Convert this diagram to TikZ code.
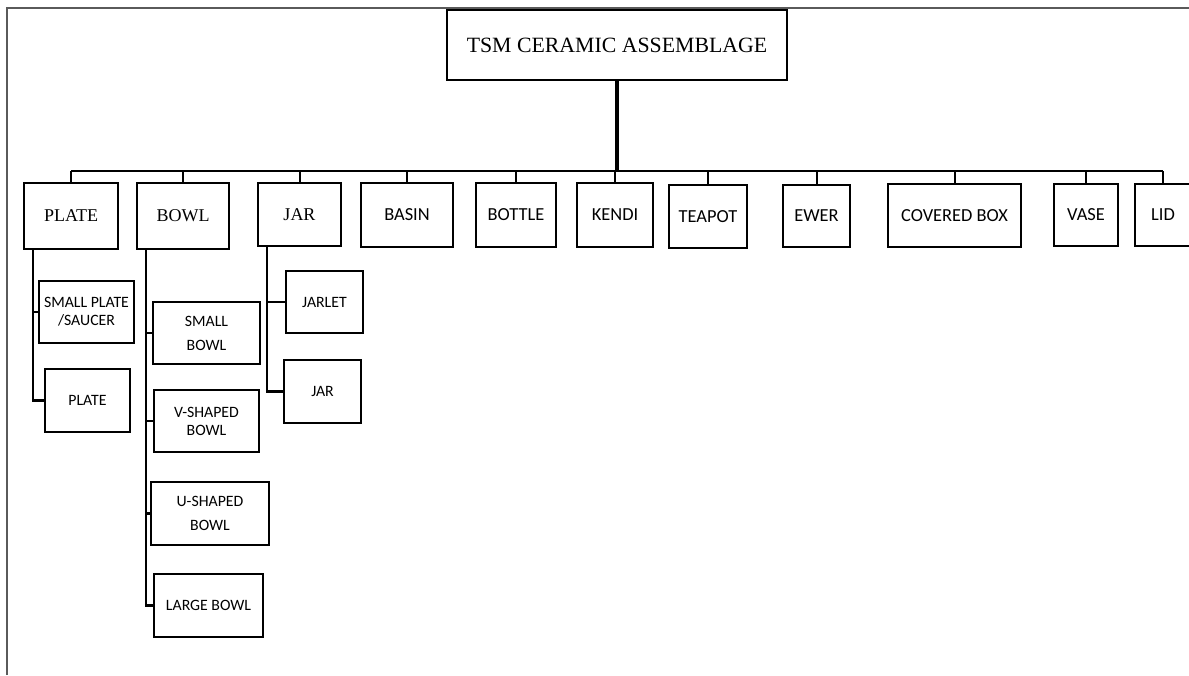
\documentclass[tikz,border=0pt]{standalone}
\usepackage{fontspec}
\setmainfont{Liberation Serif}
\newfontfamily\carlito{Carlito}
\usetikzlibrary{positioning}
\definecolor{framegrey}{HTML}{5A5A5A}
\tikzset{
  px/.style 2 args = {minimum width=#1*0.5pt, minimum height=#2*0.5pt},
  rootbox/.style   = {draw, line width=1.2pt, inner sep=0pt, align=center,
                      font=\fontsize{10.9}{13}\selectfont},
  typebox/.style   = {draw, line width=1.3pt, inner sep=0pt, align=center,
                      font=\fontsize{9}{11}\selectfont},
  formbox/.style   = {draw, line width=1.3pt, inner sep=0pt, align=center,
                      font=\carlito\fontsize{9.2}{11}\selectfont},
  subbox/.style    = {draw, line width=1.3pt, inner sep=0pt, align=center,
                      font=\carlito\fontsize{7.9}{9}\selectfont},
  trunk/.style     = {line width=2pt},
  bus/.style       = {line width=1.2pt},
  link/.style      = {line width=1pt},
  branch/.style    = {line width=1.2pt},
}

\begin{document}
\begin{tikzpicture}[x=0.5pt, y=-0.5pt]
  \useasboundingbox (0,0) rectangle (1189,675);
  \draw[framegrey, line width=0.6pt] (7,675) -- (7,8) -- (1189,8);

  \node[rootbox, px={340}{70}] (root) at (617,45) {TSM CERAMIC ASSEMBLAGE};

  % first level
  \node[typebox, px={94}{66}]  (plate)   at (71,216)     {PLATE};
  \node[typebox, px={92}{66}]  (bowl)    at (183,216)    {BOWL};
  \node[typebox, px={83}{63}]  (jar)     at (299.5,214.5){JAR};
  \node[formbox, px={92}{64}]  (basin)   at (407,215)    {BASIN};
  \node[formbox, px={80}{64}]  (bottle)  at (516,215)    {BOTTLE};
  \node[formbox, px={76}{64}]  (kendi)   at (615,215)    {KENDI};
  \node[formbox, px={78}{63}]  (teapot)  at (708,216.5)  {TEAPOT};
  \node[formbox, px={67}{62}]  (ewer)    at (816.5,216)  {EWER};
  \node[formbox, px={133}{63}] (covbox)  at (954.5,215.5){COVERED BOX};
  \node[formbox, px={64}{62}]  (vase)    at (1086,215)   {VASE};
  \node[formbox, px={56}{62}]  (lid)     at (1163,215)   {LID};

  \coordinate (busleft)  at (71,171);
  \coordinate (busright) at (1163,171);
  \draw[trunk] (root.south) -- (root.south |- busleft);
  \draw[bus] (busleft) -- (busright);
  \foreach \n in {plate,bowl,jar,basin,bottle,kendi,teapot,ewer,covbox,vase,lid}
    \draw[link] (\n.north |- busleft) -- (\n.north);

  % second level
  \node[subbox, px={95}{62}]  (saucer)  at (86.5,312)   {SMALL PLATE\\/SAUCER};
  \node[subbox, px={85}{63}]  (plate2)  at (87.5,400.5) {PLATE};
  \node[subbox, px={107}{62}] (smbowl)  at (206.5,333)  {SMALL\\[3pt]BOWL};
  \node[subbox, px={105}{62}] (vbowl)   at (206.5,421)  {V-SHAPED\\BOWL};
  \node[subbox, px={118}{63}] (ubowl)   at (210,513.5)  {U-SHAPED\\[3pt]BOWL};
  \node[subbox, px={109}{63}] (lgbowl)  at (208.5,605.5){LARGE BOWL};
  \node[subbox, px={77}{62}]  (jarlet)  at (324.5,302)  {JARLET};
  \node[subbox, px={77}{63}]  (jar2)    at (322.5,391.5){JAR};

  \coordinate (platestem) at (33,249);
  \coordinate (bowlstem)  at (146,249);
  \coordinate (jarstem)   at (267,246);
  \foreach \n in {saucer,plate2}
    \draw[branch] (platestem) |- (\n.west);
  \foreach \n in {smbowl,vbowl,ubowl,lgbowl}
    \draw[branch] (bowlstem) |- (\n.west);
  \foreach \n in {jarlet,jar2}
    \draw[branch] (jarstem) |- (\n.west);
\end{tikzpicture}
\end{document}
